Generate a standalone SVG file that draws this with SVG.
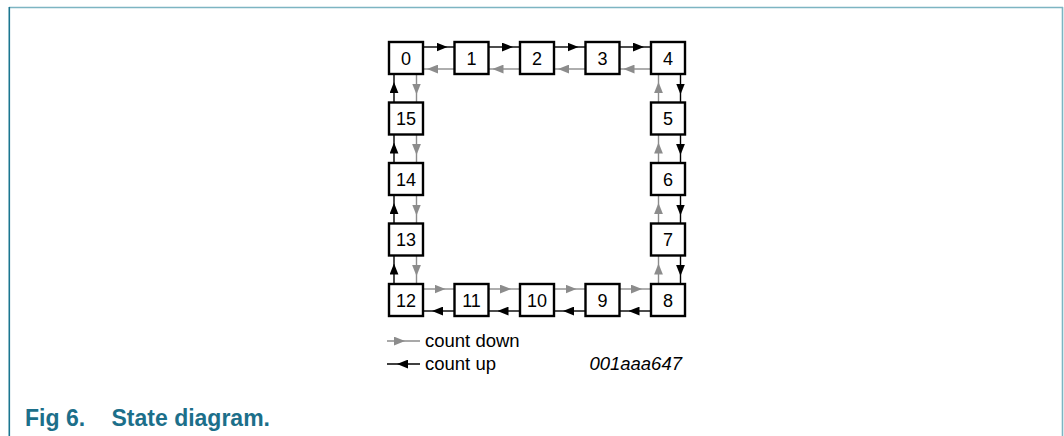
<svg xmlns="http://www.w3.org/2000/svg" width="1064" height="436" viewBox="0 0 1064 436">
  <style>
    .box rect { fill: #fff; stroke: #000; stroke-width: 2.4; }
    .box text { font-family: "Liberation Sans", Arial, sans-serif; font-size: 18px; text-anchor: middle; fill: #000; }
    .up { fill: none; stroke: #000; stroke-width: 1.4; marker-mid: url(#headK); }
    .down { fill: none; stroke: #8c8c8c; stroke-width: 1.4; marker-mid: url(#headG); }
    .legend { font-family: "Liberation Sans", Arial, sans-serif; font-size: 18.5px; fill: #000; }
    .caption { font-family: "Liberation Sans", Arial, sans-serif; font-size: 23px; font-weight: bold; fill: #1c6f8a; }
  </style>
  <defs>
    <marker id="headK" markerUnits="userSpaceOnUse" viewBox="0 0 10 8" refX="10" refY="4" markerWidth="11" markerHeight="9" orient="auto">
      <path d="M0,0 L10,4 L0,8 z" fill="#000"/>
    </marker>
    <marker id="headG" markerUnits="userSpaceOnUse" viewBox="0 0 10 8" refX="10" refY="4" markerWidth="11" markerHeight="9" orient="auto">
      <path d="M0,0 L10,4 L0,8 z" fill="#8c8c8c"/>
    </marker>
  </defs>

  <!-- page frame -->
  <g id="frame">
    <line x1="9" y1="7.5" x2="1063" y2="7.5" stroke="#7db5c2" stroke-width="1.6"/>
    <line x1="1062.5" y1="7" x2="1062.5" y2="436" stroke="#7db5c2" stroke-width="1.6"/>
    <line x1="9.3" y1="7" x2="9.3" y2="436" stroke="#1b7690" stroke-width="1.6"/>
  </g>

  <!-- connectors: black = count up, grey = count down -->
  <g id="connectors">
    <!-- top row -->
    <path class="up" d="M423,47 H447.5 H454.5"/>
    <path class="down" d="M454.5,69 H427 H423"/>
    <path class="up" d="M488.5,47 H513 H520"/>
    <path class="down" d="M520,69 H492.5 H488.5"/>
    <path class="up" d="M554,47 H578.5 H585.5"/>
    <path class="down" d="M585.5,69 H558 H554"/>
    <path class="up" d="M619.5,47 H644 H651"/>
    <path class="down" d="M651,69 H623.5 H619.5"/>
    <!-- right column -->
    <path class="down" d="M658.5,102.5 V82 V74"/>
    <path class="up" d="M680.5,74 V94.5 V102.5"/>
    <path class="down" d="M658.5,163 V142.5 V134.5"/>
    <path class="up" d="M680.5,134.5 V155 V163"/>
    <path class="down" d="M658.5,223.5 V203 V195"/>
    <path class="up" d="M680.5,195 V215.5 V223.5"/>
    <path class="down" d="M658.5,284 V263.5 V255.5"/>
    <path class="up" d="M680.5,255.5 V276 V284"/>
    <!-- bottom row -->
    <path class="down" d="M423,289 H445.5 H454.5"/>
    <path class="up" d="M454.5,311 H432 H423"/>
    <path class="down" d="M488.5,289 H511 H520"/>
    <path class="up" d="M520,311 H497.5 H488.5"/>
    <path class="down" d="M554,289 H576.5 H585.5"/>
    <path class="up" d="M585.5,311 H563 H554"/>
    <path class="down" d="M619.5,289 H642 H651"/>
    <path class="up" d="M651,311 H628.5 H619.5"/>
    <!-- left column -->
    <path class="up" d="M394,284 V263.5 V255.5"/>
    <path class="down" d="M416.5,255.5 V276 V284"/>
    <path class="up" d="M394,223.5 V203 V195"/>
    <path class="down" d="M416.5,195 V215.5 V223.5"/>
    <path class="up" d="M394,163 V142.5 V134.5"/>
    <path class="down" d="M416.5,134.5 V155 V163"/>
    <path class="up" d="M394,102.5 V82 V74"/>
    <path class="down" d="M416.5,74 V94.5 V102.5"/>
  </g>

  <!-- states -->
  <g id="s0" class="box"><rect x="389" y="42" width="34" height="32"/><text x="406" y="64.5">0</text></g>
  <g id="s1" class="box"><rect x="454.5" y="42" width="34" height="32"/><text x="471.5" y="64.5">1</text></g>
  <g id="s2" class="box"><rect x="520" y="42" width="34" height="32"/><text x="537" y="64.5">2</text></g>
  <g id="s3" class="box"><rect x="585.5" y="42" width="34" height="32"/><text x="602.5" y="64.5">3</text></g>
  <g id="s4" class="box"><rect x="651" y="42" width="34" height="32"/><text x="668" y="64.5">4</text></g>
  <g id="s5" class="box"><rect x="651" y="102.5" width="34" height="32"/><text x="668" y="125">5</text></g>
  <g id="s6" class="box"><rect x="651" y="163" width="34" height="32"/><text x="668" y="185.5">6</text></g>
  <g id="s7" class="box"><rect x="651" y="223.5" width="34" height="32"/><text x="668" y="246">7</text></g>
  <g id="s8" class="box"><rect x="651" y="284" width="34" height="32"/><text x="668" y="306.5">8</text></g>
  <g id="s9" class="box"><rect x="585.5" y="284" width="34" height="32"/><text x="602.5" y="306.5">9</text></g>
  <g id="s10" class="box"><rect x="520" y="284" width="34" height="32"/><text x="537" y="306.5">10</text></g>
  <g id="s11" class="box"><rect x="454.5" y="284" width="34" height="32"/><text x="471.5" y="306.5">11</text></g>
  <g id="s12" class="box"><rect x="389" y="284" width="34" height="32"/><text x="406" y="306.5">12</text></g>
  <g id="s13" class="box"><rect x="389" y="223.5" width="34" height="32"/><text x="406" y="246">13</text></g>
  <g id="s14" class="box"><rect x="389" y="163" width="34" height="32"/><text x="406" y="185.5">14</text></g>
  <g id="s15" class="box"><rect x="389" y="102.5" width="34" height="32"/><text x="406" y="125">15</text></g>

  <!-- legend -->
  <g id="legend">
    <path class="down" d="M387,341 H405 H420"/>
    <text class="legend" x="425" y="347">count down</text>
    <path class="up" d="M420,364 H397 H387"/>
    <text class="legend" x="425" y="370">count up</text>
    <text class="legend" x="682" y="370" text-anchor="end" font-style="italic" font-size="18px">001aaa647</text>
  </g>

  <!-- caption -->
  <text class="caption" x="25" y="426">Fig 6.</text>
  <text class="caption" x="111.5" y="426">State diagram.</text>
</svg>
